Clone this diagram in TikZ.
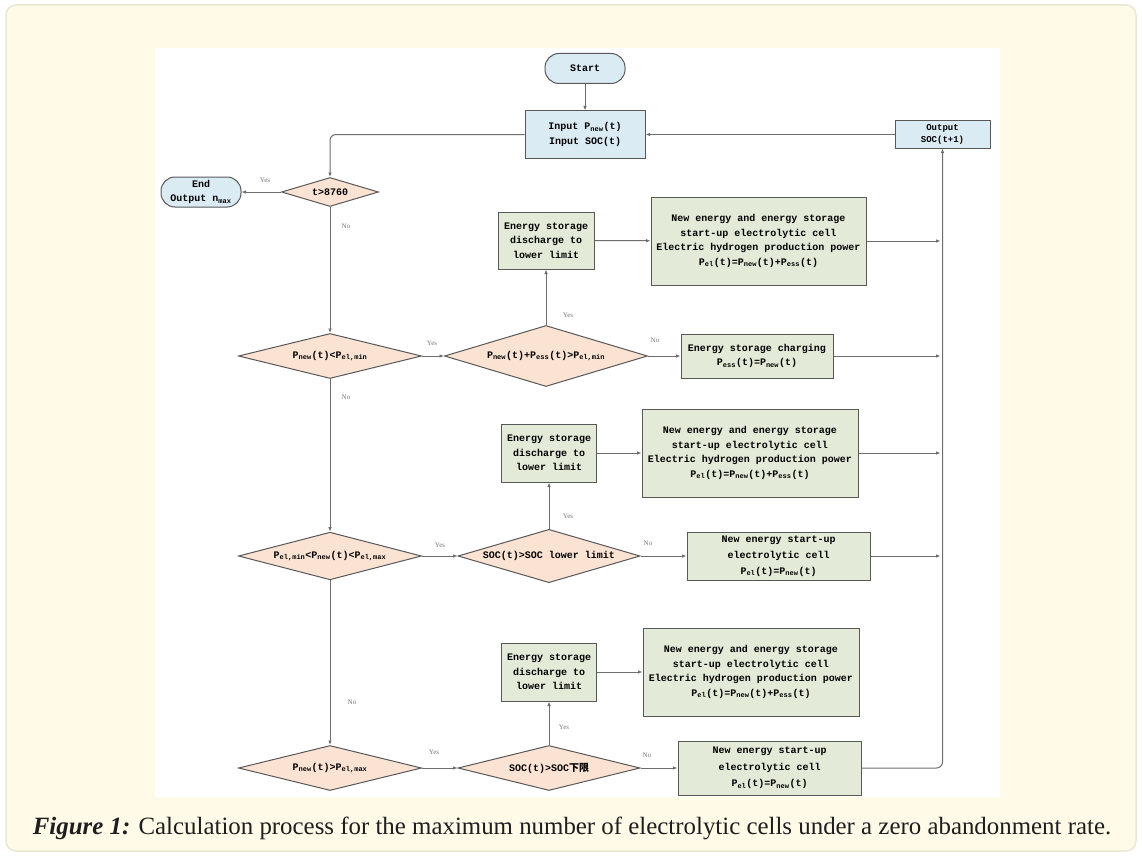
\documentclass[tikz,border=0pt]{standalone}
\usepackage{fontspec}
\usepackage{graphicx}
\setmainfont{Liberation Serif}
\newfontfamily\boxfont{Liberation Mono}
\newfontfamily\cjk{Noto Sans CJK SC}
\usetikzlibrary{shapes.geometric,arrows.meta}
\definecolor{cardbg}{RGB}{255,251,232}
\definecolor{cardbd}{RGB}{234,231,214}
\definecolor{bluef}{RGB}{219,235,243}
\definecolor{greenf}{RGB}{227,234,216}
\definecolor{peach}{RGB}{251,227,211}
\definecolor{bord}{RGB}{88,88,88}
\definecolor{linec}{RGB}{110,110,110}
\definecolor{lblc}{RGB}{120,120,120}
\definecolor{captc}{RGB}{30,30,30}
\tikzset{
  base/.style={draw=bord, line width=1pt, font={\boxfont\bfseries\fontsize{10}{14.5}\selectfont}, align=center, inner sep=0pt},
  pill/.style={base, fill=bluef, rounded corners=14pt},
  bluebox/.style={base, fill=bluef},
  greenbox/.style={base, fill=greenf},
  dia/.style={base, diamond, fill=peach, aspect=3},
  lbl/.style={font={\fontsize{7}{8}\selectfont}, text=lblc, inner sep=0pt},
  arr/.style={draw=linec, line width=1pt, -{Latex[length=4.5pt,width=3.5pt]}},
  ln/.style={draw=linec, line width=1pt},
}
\newcommand\sbs[1]{\textsubscript{#1}}
\begin{document}
\begin{tikzpicture}[x=1pt,y=-1pt]
\useasboundingbox (0,0) rectangle (1142,856);
\draw[fill=cardbg, draw=cardbd, line width=1.5pt, rounded corners=10pt] (6,5) rectangle (1136,851);
\fill[white] (155,48) rectangle (1000,797);

% nodes
\node[pill, minimum width=80, minimum height=30] (start) at (585,68.5) {Start};
\node[bluebox, minimum width=120, minimum height=47] (inp) at (585,134.5) {Input P\sbs{new}(t)\\Input SOC(t)};
\node[bluebox, minimum width=95, minimum height=27, font={\boxfont\bfseries\fontsize{9}{12}\selectfont}] (out) at (942.5,134.5) {Output\\SOC(t+1)};
\node[pill, minimum width=80, minimum height=30] (end) at (201,192) {End\\Output n\sbs{max}};

\node[dia, minimum width=97, minimum height=29] (d1) at (330,192) {t>8760};
\node[dia, minimum width=183, minimum height=45] (d2) at (330,356) {P\sbs{new}(t)<P\sbs{el,min}};
\node[dia, minimum width=203, minimum height=61] (d3) at (546,356) {P\sbs{new}(t)+P\sbs{ess}(t)>P\sbs{el,min}};
\node[dia, minimum width=183, minimum height=45] (d4) at (330,556) {P\sbs{el,min}<P\sbs{new}(t)<P\sbs{el,max}};
\node[dia, minimum width=182, minimum height=45] (d5) at (549,556) {SOC(t)>SOC lower limit};
\node[dia, minimum width=183, minimum height=45] (d6) at (330,768) {P\sbs{new}(t)>P\sbs{el,max}};
\node[dia, minimum width=182, minimum height=45] (d7) at (549,768) {SOC(t)>SOC{\cjk 下限}};

\node[greenbox, minimum width=96, minimum height=57] (ds1) at (546,240.5) {Energy storage\\discharge to\\lower limit};
\node[greenbox, minimum width=215, minimum height=88] (ne1) at (758.5,241) {New energy and energy storage\\start-up electrolytic cell\\Electric hydrogen production power\\P\sbs{el}(t)=P\sbs{new}(t)+P\sbs{ess}(t)};
\node[greenbox, minimum width=152, minimum height=44] (ch) at (757,356) {Energy storage charging\\P\sbs{ess}(t)=P\sbs{new}(t)};

\node[greenbox, minimum width=95, minimum height=58] (ds2) at (549,453) {Energy storage\\discharge to\\lower limit};
\node[greenbox, minimum width=216, minimum height=88] (ne2) at (750,453) {New energy and energy storage\\start-up electrolytic cell\\Electric hydrogen production power\\P\sbs{el}(t)=P\sbs{new}(t)+P\sbs{ess}(t)};
\node[greenbox, minimum width=183, minimum height=48, font={\boxfont\bfseries\fontsize{10}{16}\selectfont}] (su2) at (778.5,556) {New energy start-up\\electrolytic cell\\P\sbs{el}(t)=P\sbs{new}(t)};

\node[greenbox, minimum width=95, minimum height=58] (ds3) at (549,672) {Energy storage\\discharge to\\lower limit};
\node[greenbox, minimum width=216, minimum height=88] (ne3) at (751,672) {New energy and energy storage\\start-up electrolytic cell\\Electric hydrogen production power\\P\sbs{el}(t)=P\sbs{new}(t)+P\sbs{ess}(t)};
\node[greenbox, minimum width=183, minimum height=54, font={\boxfont\bfseries\fontsize{10}{16.5}\selectfont}] (su3) at (769.5,768) {New energy start-up\\electrolytic cell\\P\sbs{el}(t)=P\sbs{new}(t)};

% trunk coordinates
\coordinate (r1) at (940.5,241);
\coordinate (r2) at (940.5,356);
\coordinate (r3) at (940.5,453);
\coordinate (r4) at (940.5,556);
\coordinate (tr) at (942.5,768);

% connectors
\draw[arr] (start) -- (inp);
\draw[arr] (out) -- (inp);
\draw[arr, rounded corners=6pt] (inp.west) -| (d1.north);
\draw[arr] (d1) -- (end);
\draw[arr] (d1) -- (d2);
\draw[arr] (d2) -- (d3);
\draw[arr] (d3) -- (ds1);
\draw[arr] (ds1) -- (ne1);
\draw[arr] (ne1) -- (r1);
\draw[arr] (d3) -- (ch);
\draw[arr] (ch) -- (r2);
\draw[arr] (d2) -- (d4);
\draw[arr] (d4) -- (d5);
\draw[arr] (d5) -- (ds2);
\draw[arr] (ds2) -- (ne2);
\draw[arr] (ne2) -- (r3);
\draw[arr] (d5) -- (su2);
\draw[arr] (su2) -- (r4);
\draw[arr] (d4) -- (d6);
\draw[arr] (d6) -- (d7);
\draw[arr] (d7) -- (ds3);
\draw[arr] (ds3) -- (ne3);
\draw[arr] (d7) -- (su3);
\draw[arr, rounded corners=6pt] (su3.east) -- (tr) -- (out.south);

% labels
\node[lbl] (ly1) at (265,180) {Yes};
\node[lbl] (ln1) at (346,226) {No};
\node[lbl] (ly2) at (432,343) {Yes};
\node[lbl] (ly3) at (568,315) {Yes};
\node[lbl] (ln2) at (655,340) {No};
\node[lbl] (ln3) at (346,397) {No};
\node[lbl] (ly4) at (440,545) {Yes};
\node[lbl] (ly5) at (568,516) {Yes};
\node[lbl] (ln4) at (648,543) {No};
\node[lbl] (ln5) at (352,702) {No};
\node[lbl] (ly6) at (434,752) {Yes};
\node[lbl] (ly7) at (564,727) {Yes};
\node[lbl] (ln6) at (647,755) {No};

% caption
\node[inner sep=0pt, text=captc] (cap) at (572,828) {\resizebox{1078pt}{!}{\textbf{\textit{Figure 1:}} Calculation process for the maximum number of electrolytic cells under a zero abandonment rate.}};
\end{tikzpicture}
\end{document}
